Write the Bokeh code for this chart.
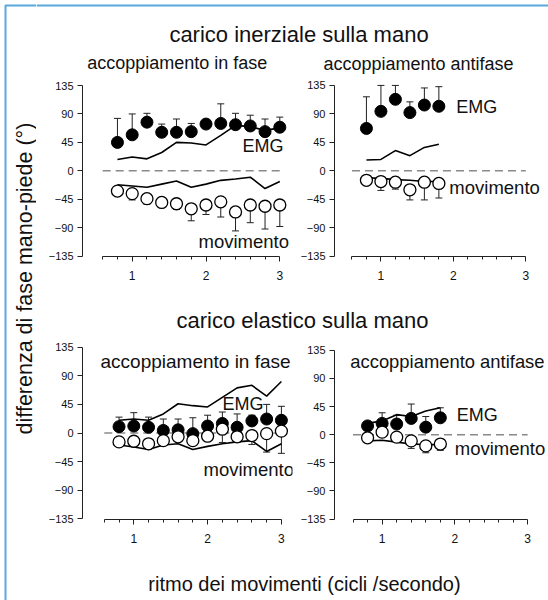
import math
from bokeh.plotting import figure
from bokeh.models import Range1d, FixedTicker, Whisker, TeeHead, ColumnDataSource, Label
from bokeh.layouts import row, column
from bokeh.embed import file_html
from bokeh.resources import INLINE
from bokeh.core.properties import value

FONT = "Liberation Sans"

# ---------------- data ----------------
x_fast = [0.8, 1.0, 1.2, 1.4, 1.6, 1.8, 2.0, 2.2, 2.4, 2.6, 2.8, 3.0]
x_slow = [0.8, 1.0, 1.2, 1.4, 1.6, 1.8]

# carico inerziale - in fase
tl_emg_mean = [45, 57, 77, 61, 61, 62, 74, 75, 73, 71, 62, 69]
tl_emg_top = [83, 90, 91, 74, 82, 75, 74, 106, 91, 88, 82, 85]
tl_emg_line = [18, 22, 19, 29, 45, 44, 41, 56, 72, 70, 64, 68]
tl_mov_mean = [-32, -36, -44, -50, -52, -60, -54, -49, -65, -54, -56, -54]
tl_mov_bot = [-32, -46, -53, -55, -61, -79, -69, -73, -95, -82, -92, -88]
tl_mov_line = [-22, -24, -26, -21, -16, -26, -21, -15, -13, -10, -28, -17]

# carico inerziale - antifase
tr_emg_mean = [67, 94, 113, 92, 104, 102]
tr_emg_top = [117, 135, 135, 109, 131, 133]
tr_emg_line = [17, 18, 32, 24, 37, 42]
tr_mov_mean = [-15, -17, -18, -30, -18, -20]
tr_mov_bot = [-15, -31, -29, -46, -46, -43]
tr_mov_line = [-11, -12, -14, -15, -17, -17]

# carico elastico - in fase
bl_emg_mean = [10, 11, 9, 4, 5, -1, 11, 15, 9, 19, 22, 20]
bl_emg_top = [25, 32, 25, 22, 22, 24, 28, 33, 30, 28, 45, 42]
bl_emg_line = [20, 22, 20, 30, 46, 43, 41, 56, 71, 75, 58, 81]
bl_mov_mean = [-14, -13, -17, -12, -6, -12, -5, 6, -6, -4, -1, 3]
bl_mov_bot = [-14, -13, -17, -12, -6, -12, -5, -15, -14, -18, -30, -32]
bl_mov_line = [-19, -22, -26, -19, -17, -26, -21, -17, -14, -12, -29, -17]

# carico elastico - antifase
br_emg_mean = [14, 18, 17, 26, 12, 27]
br_emg_top = [14, 35, 31, 49, 29, 43]
br_emg_line = [18, 22, 32, 29, 38, 43]
br_mov_mean = [-5, 4, -4, -10, -18, -15]
br_mov_bot = [-5, 4, -4, -22, -29, -25]
br_mov_line = [-10, -9, -12, -15, -16, -16]

y_ticks = [-135, -90, -45, 0, 45, 90, 135]
x_major = [1, 2, 3]
x_minor = [0.6, 0.8, 1.2, 1.4, 1.6, 1.8, 2.2, 2.4, 2.6, 2.8]
x_axis_bounds = (0.6, 3.0)
zero_line_x = [0.6, 3.0]

title_top = "carico inerziale sulla mano"
title_bottom = "carico elastico sulla mano"
sub_in = "accoppiamento in fase"
sub_anti = "accoppiamento antifase"
ylabel = "differenza di fase mano-piede (°)"
xlabel = "ritmo dei movimenti (cicli /secondo)"

BLUE = "#5aa8dc"
AX = "#222222"
TXT = "#111111"
SHIFT = 0.35  # baseline correction, in em


def fix(y, fs):
    return y - SHIFT * fs


def strip(x0, w, y0, h):
    p = figure(width=w, height=h, x_range=Range1d(x0, x0 + w), y_range=Range1d(y0 + h, y0),
               output_backend="svg", toolbar_location=None, min_border=0,
               x_axis_location=None, y_axis_location=None, outline_line_color=None)
    p.grid.visible = False
    return p


def panel(geo):
    fl, fr, ft, fb, px1, ppu, py_pos, py_neg, bl, br, bb = geo
    s = (py_neg - py_pos) / 270.0
    x0 = 1 + (fl - px1) / ppu
    x1 = 1 + (fr - px1) / ppu
    y1 = 135 + (py_pos - ft) / s
    y0 = -135 - (fb - py_neg) / s
    fw = fr - fl
    fh = fb - ft
    p = figure(width=int(bl + fw + br), height=int(fh + bb), x_range=Range1d(x0, x1), y_range=Range1d(y0, y1),
               output_backend="svg", toolbar_location=None,
               min_border_left=int(bl), min_border_right=int(br), min_border_top=0,
               min_border_bottom=int(bb), outline_line_color=None)
    p.grid.visible = False
    xa = p.xaxis[0]
    xa.ticker = FixedTicker(ticks=x_major, minor_ticks=x_minor)
    xa.bounds = x_axis_bounds
    xa.major_tick_out = 5
    xa.major_tick_in = 0
    xa.minor_tick_out = 3
    xa.minor_tick_in = 0
    xa.major_label_standoff = 9
    xa.major_label_text_font = FONT
    xa.major_label_text_font_size = "12px"
    ya = p.yaxis[0]
    ya.ticker = FixedTicker(ticks=y_ticks, minor_ticks=[])
    ya.bounds = (-135, 135)
    ya.major_tick_out = 5
    ya.major_tick_in = 0
    ya.minor_tick_out = 0
    ya.minor_tick_in = 0
    ya.major_label_standoff = 4
    ya.major_label_text_font = FONT
    ya.major_label_text_font_size = "11px"
    for a in (xa, ya):
        a.axis_line_color = AX
        a.major_tick_line_color = AX
        a.minor_tick_line_color = AX
        a.major_label_text_color = TXT

    def to_data(px, py):
        return x0 + (px - fl) / ppu, y1 - (py - ft) / s

    return p, to_data


def fill_panel(p, xs, emg_mean, emg_top, emg_line, mov_mean, mov_bot, mov_line):
    p.line(zero_line_x, [0, 0], line_color="#8a8a8a", line_width=1.5, line_dash="8 5")
    src_e = ColumnDataSource(dict(x=xs, y=emg_mean, top=emg_top))
    src_m = ColumnDataSource(dict(x=xs, y=mov_mean, bot=mov_bot))
    p.add_layout(Whisker(source=src_e, base="x", upper="top", lower="y",
                         upper_head=TeeHead(size=7, line_color=AX, line_width=1), lower_head=None,
                         line_color=AX, line_width=1, level="underlay"))
    p.add_layout(Whisker(source=src_m, base="x", upper="y", lower="bot",
                         lower_head=TeeHead(size=7, line_color=AX, line_width=1), upper_head=None,
                         line_color=AX, line_width=1, level="underlay"))
    p.line(xs, emg_line, line_color="black", line_width=1.6)
    p.line(xs, mov_line, line_color="black", line_width=1.6)
    p.scatter("x", "y", source=src_e, size=12, marker="circle", fill_color="black", line_color="black")
    p.scatter("x", "y", source=src_m, size=12, marker="circle", fill_color="white",
              line_color="black", line_width=1.3)


def add_label(pp, px, py, text, fs):
    p, to_data = pp
    x, y = to_data(px, fix(py, fs))
    p.add_layout(Label(x=x, y=y, text=text, text_font=FONT, text_font_size=f"{fs}px",
                       text_align="left", text_baseline="alphabetic", text_color=TXT))


# geometry: frame left/right/top/bottom (page px), px of x=1, px per unit, py of 135, py of -135,
#           border left, border right, border bottom
TLp = panel((82, 292, 78, 256, 131.7, 73.8, 85, 255.7, 46, 5, 44))
TRp = panel((330, 546, 78, 258, 377.3, 73.8, 85, 257.7, 33, 2, 42))
BLp = panel((82, 292, 338, 519, 133.3, 73.8, 346.7, 518.3, 46, 5, 41))
BRp = panel((331, 546, 338, 522, 379.3, 73.8, 350, 521.5, 34, 2, 38))

fill_panel(TLp[0], x_fast, tl_emg_mean, tl_emg_top, tl_emg_line, tl_mov_mean, tl_mov_bot, tl_mov_line)
fill_panel(TRp[0], x_slow, tr_emg_mean, tr_emg_top, tr_emg_line, tr_mov_mean, tr_mov_bot, tr_mov_line)
fill_panel(BLp[0], x_fast, bl_emg_mean, bl_emg_top, bl_emg_line, bl_mov_mean, bl_mov_bot, bl_mov_line)
fill_panel(BRp[0], x_slow, br_emg_mean, br_emg_top, br_emg_line, br_mov_mean, br_mov_bot, br_mov_line)

add_label(TLp, 242, 152, "EMG", 18)
add_label(TLp, 198, 247, "movimento", 18.5)
add_label(TRp, 454, 113, "EMG", 18)
add_label(TRp, 447, 195, "movimento", 18.5)
add_label(BLp, 222, 410, "EMG", 18)
add_label(BLp, 203, 475, "movimento", 18.5)
add_label(BRp, 455, 422, "EMG", 18)
add_label(BRp, 453, 456, "movimento", 18.5)
add_label(BLp, 100, 368, sub_in, 19)
add_label(BRp, 347, 368, sub_anti, 18.4)

# strips
L = strip(0, 36, 0, 600)
L.line([5, 5, 36], [600, 5, 5], line_color=BLUE, line_width=2)
L.text(x=[fix(32, 21.5)], y=[278], text=[ylabel], angle=math.pi / 2, text_font=value(FONT),
       text_font_size=value("21.5px"), text_align="center", text_baseline="alphabetic", text_color=TXT)

T1 = strip(36, 512, 0, 78)
T1.line([36, 548], [5, 5], line_color=BLUE, line_width=2)
T1.text(x=[298.5], y=[fix(41.7, 22)], text=[title_top], text_font=value(FONT), text_font_size=value("22px"),
        text_align="center", text_baseline="alphabetic", text_color=TXT)
T1.text(x=[176.7, 418], y=[fix(68.3, 18), fix(70, 18)], text=[sub_in, sub_anti], text_font=value(FONT),
        text_font_size=value("18px"), text_align="center", text_baseline="alphabetic", text_color=TXT)

T2 = strip(36, 512, 300, 38)
T2.text(x=[302], y=[fix(328, 22)], text=[title_bottom], text_font=value(FONT), text_font_size=value("22px"),
        text_align="center", text_baseline="alphabetic", text_color=TXT)

T3 = strip(36, 512, 560, 40)
T3.text(x=[304], y=[fix(590.5, 20)], text=[xlabel], text_font=value(FONT), text_font_size=value("20px"),
        text_align="center", text_baseline="alphabetic", text_color=TXT)

right = column(T1, row(TLp[0], TRp[0], spacing=0), T2, row(BLp[0], BRp[0], spacing=0), T3, spacing=0)
page = row(L, right, spacing=0)

open("out.html", "w").write(file_html(page, INLINE))
